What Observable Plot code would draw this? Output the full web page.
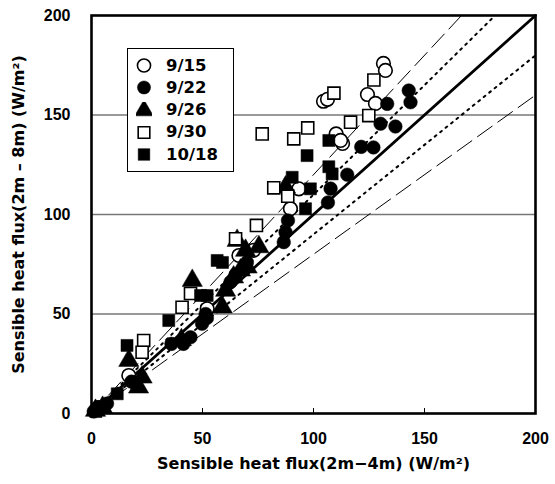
<!DOCTYPE html>
<html><head><meta charset="utf-8">
<script src="https://cdn.jsdelivr.net/npm/d3@7"></script>
<script src="https://cdn.jsdelivr.net/npm/@observablehq/plot@0.6"></script>
<style>
html,body{margin:0;padding:0;background:#fff;}
#wrap{position:relative;width:555px;height:484px;}
#legend{position:absolute;left:127px;top:48px;width:105px;height:122px;border:1.5px solid #000;background:#fff;font-family:"DejaVu Sans",sans-serif;font-weight:bold;font-size:16.5px;}
#legend .row{position:absolute;left:0;height:22px;display:flex;align-items:center;}
#legend svg{margin-left:8px;margin-right:14px;}
</style></head>
<body><div id="wrap"><div id="legend"></div></div>
<script>
const seriesNames = ["9/15", "9/22", "9/26", "9/30", "10/18"];
const seriesSymbols = ["circle", "circle", "triangle", "square", "square"];
const seriesFilled = [false, true, true, false, true];

const x0915 = [131.5,132.4,124.3,127.9,113.1,104.5,106.3,110.2,112.2,93.4,89.6,66.4,73,52.1,16.8,3];
const y0915 = [175.9,172.4,160.3,155.8,135.7,156.9,157.9,140.5,137.2,112.9,102.9,79.4,82,52.6,19.1,3];
const x0922 = [142.9,143.7,133.2,130.2,136.9,121.5,127,115.2,107.7,106.5,88.5,87.4,86.6,62.6,65,70,52,49.8,51.4,44.6,41.4,36,19,18,7,3.2,1];
const y0922 = [162.3,156.4,155.6,145.6,144.2,134,133.7,120,113,106,97,91.1,86.1,66,70,76,48,45.1,50,38.3,35,35,15.7,16,5,3,1];
const x0926 = [45.4,67.1,75.4,87.4,70.1,69.4,64,60.4,58.9,65.6,16.8,21.2,22.8,40.5,1.8,5];
const y0926 = [66.8,72,83.7,113.7,73.5,81.9,68.5,61.8,53.4,86.9,26.6,13.2,18.2,37,1.5,3];
const x0930 = [76.9,91.1,97.4,109.2,127.2,116.7,124.9,82.1,88.4,74.3,64.9,40.8,44.6,23.5,22.8];
const y0930 = [140.5,138,143.5,161,167.6,146.4,149.7,113.4,109.2,94.5,87.8,53.4,60.3,36.7,30.8];
const x1018 = [97.1,106.9,90.4,98.6,106.9,108.4,96.4,56.6,59,34.8,49.1,52.1,16,11.6,2];
const y1018 = [129.6,137.2,118.7,112.9,124,120.4,102.9,76.9,75.9,46.7,59.3,59.3,34.2,9.9,1];

const xTicks = [0, 50, 100, 150, 200];
const yTicks = [0, 50, 100, 150, 200];
const gridValues = [50, 100, 150];
const refSlopes = [1.2, 1.1, 1.0, 0.9, 0.8];
const refStyles = ["dashed", "dotted", "solid", "dotted", "dashed"];
const xTitle = "Sensible heat flux(2m\u22124m) (W/m\u00B2)";
const yTitle = "Sensible heat flux(2m \u2013 8m) (W/m\u00B2)";

const xs = [x0915, x0922, x0926, x0930, x1018];
const ys = [y0915, y0922, y0926, y0930, y1018];
const points = [];
seriesNames.forEach((name, i) => xs[i].forEach((x, j) => points.push({series: i, name, x, y: ys[i][j]})));

const refLines = [];
refSlopes.forEach((s, i) => {
  const xEnd = Math.min(200, 200 / s);
  refLines.push({id: i, x: 0, y: 0, style: refStyles[i]}, {id: i, x: xEnd, y: xEnd * s, style: refStyles[i]});
});
const lineStyle = {
  dashed: {strokeWidth: 1, strokeDasharray: "18,7"},
  dotted: {strokeWidth: 2, strokeDasharray: "2,5"},
  solid: {strokeWidth: 2.8, strokeDasharray: null}
};

const font = "'DejaVu Sans', sans-serif";
const tickFont = "'Liberation Sans', Arial, sans-serif";
const marks = [
  Plot.gridY(gridValues, {stroke: "#777", strokeOpacity: 1, strokeWidth: 1.5}),
  Plot.ruleX(xTicks.slice(1, -1), {x: d => d, y1: 0, y2: 2.5, stroke: "#000", strokeWidth: 1}),
  ...["dashed", "dotted", "solid"].map(st => Plot.line(refLines.filter(d => d.style === st), {
    x: "x", y: "y", z: "id", stroke: "#000", ...lineStyle[st]
  })),
  ...seriesNames.map((name, i) => Plot.dot(points.filter(d => d.series === i), {
    x: "x", y: "y", symbol: () => seriesSymbols[i], r: seriesSymbols[i] === "triangle" ? 7.5 : 6.8,
    fill: seriesFilled[i] ? "#000" : "#fff", stroke: "#000", strokeWidth: seriesFilled[i] ? 0.5 : 1.6
  })),
  Plot.frame({stroke: "#000", strokeWidth: 2.6}),
  Plot.axisX(xTicks, {tickSize: 0, tickPadding: 19, fontSize: 16, fontWeight: "bold", fontFamily: tickFont, label: null}),
  Plot.axisY(yTicks, {tickSize: 0, tickPadding: 21, fontSize: 16, fontWeight: "bold", fontFamily: tickFont, label: null}),
  Plot.text([xTitle], {text: d => d, frameAnchor: "bottom", textAnchor: "middle", dy: 55, fontSize: 16, fontWeight: "bold", fontFamily: font}),
  Plot.text([yTitle], {text: d => d, frameAnchor: "left", textAnchor: "middle", dx: -73, rotate: -90, fontSize: 16, fontWeight: "bold", fontFamily: font})
];

const chart = Plot.plot({
  width: 555, height: 484,
  marginLeft: 91, marginRight: 20, marginTop: 15, marginBottom: 71,
  x: {domain: [0, 200]},
  y: {domain: [0, 200]},
  style: {background: "#fff", color: "#000", overflow: "visible"},
  marks
});
const wrap = document.getElementById("wrap");
wrap.insertBefore(chart, wrap.firstChild);

// legend
const legend = document.getElementById("legend");
seriesNames.forEach((name, i) => {
  const row = document.createElement("div");
  row.className = "row";
  row.style.top = (5 + i * 22.3) + "px";
  const svg = d3.create("svg").attr("width", 16).attr("height", 16);
  const sym = {circle: d3.symbolCircle, triangle: d3.symbolTriangle, square: d3.symbolSquare}[seriesSymbols[i]];
  svg.append("path").attr("transform", "translate(8,8.5)")
    .attr("d", d3.symbol(sym, seriesSymbols[i] === "triangle" ? 150 : 135)())
    .attr("fill", seriesFilled[i] ? "#000" : "#fff").attr("stroke", "#000").attr("stroke-width", seriesFilled[i] ? 0.5 : 1.6);
  row.appendChild(svg.node());
  const t = document.createElement("span");
  t.textContent = name;
  row.appendChild(t);
  legend.appendChild(row);
});
</script></body></html>
